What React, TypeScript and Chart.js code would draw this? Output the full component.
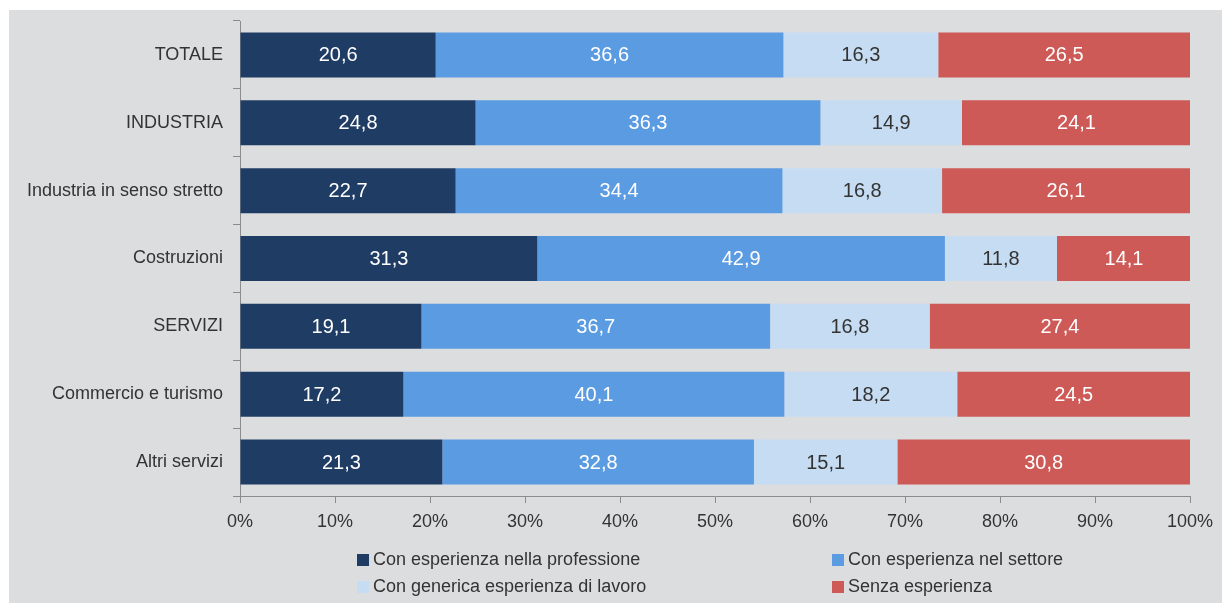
import React, { useEffect, useRef } from "react";
import { Chart, registerables } from "chart.js";

Chart.register(...registerables);

const categories = [
  "TOTALE",
  "INDUSTRIA",
  "Industria in senso stretto",
  "Costruzioni",
  "SERVIZI",
  "Commercio e turismo",
  "Altri servizi",
];

const seriesLabels = [
  "Con esperienza nella professione",
  "Con esperienza nel settore",
  "Con generica esperienza di lavoro",
  "Senza esperienza",
];

const professione = [20.6, 24.8, 22.7, 31.3, 19.1, 17.2, 21.3];
const settore = [36.6, 36.3, 34.4, 42.9, 36.7, 40.1, 32.8];
const generica = [16.3, 14.9, 16.8, 11.8, 16.8, 18.2, 15.1];
const senza = [26.5, 24.1, 26.1, 14.1, 27.4, 24.5, 30.8];

const colors = ["#1f3c64", "#5b9be1", "#c6dcf3", "#cd5a56"];
const labelColors = ["#ffffff", "#ffffff", "#333333", "#ffffff"];
const FONT = "'Liberation Sans', Arial, sans-serif";

const valueLabels = {
  id: "valueLabels",
  afterDatasetsDraw(chart: any) {
    const ctx = chart.ctx;
    ctx.save();
    ctx.font = `20px ${FONT}`;
    ctx.textAlign = "center";
    ctx.textBaseline = "middle";
    chart.data.datasets.forEach((ds: any, i: number) => {
      const meta = chart.getDatasetMeta(i);
      meta.data.forEach((el: any, j: number) => {
        const v = ds.data[j];
        const cx = (el.x + el.base) / 2;
        ctx.fillStyle = labelColors[i];
        ctx.fillText(v.toFixed(1).replace(".", ","), cx, el.y + 1);
      });
    });
    ctx.restore();
  },
};

const customLegend = {
  id: "customLegend",
  afterDraw(chart: any) {
    const ctx = chart.ctx;
    ctx.save();
    ctx.font = `18px ${FONT}`;
    ctx.textBaseline = "middle";
    ctx.textAlign = "left";
    const cols = [348, 823];
    const rows = [550, 577];
    chart.data.datasets.forEach((ds: any, i: number) => {
      const x = cols[i % 2];
      const y = rows[Math.floor(i / 2)];
      ctx.fillStyle = ds.backgroundColor;
      ctx.fillRect(x, y - 6, 12, 12);
      ctx.fillStyle = "#333333";
      ctx.fillText(ds.label, x + 16, y);
    });
    ctx.restore();
  },
};

export default function App() {
  const ref = useRef<HTMLCanvasElement>(null);
  useEffect(() => {
    if (!ref.current) return;
    const series = [professione, settore, generica, senza];
    const chart = new Chart(ref.current, {
      type: "bar",
      data: {
        labels: categories,
        datasets: series.map((d, i) => ({
          label: seriesLabels[i],
          data: d,
          backgroundColor: colors[i],
          borderWidth: 0,
          barPercentage: 0.663,
          categoryPercentage: 1,
        })),
      },
      options: {
        indexAxis: "y",
        animation: false,
        responsive: false,
        maintainAspectRatio: false,
        layout: { padding: { top: 11, right: 32, left: 0, bottom: 0 } },
        plugins: {
          legend: { display: false },
          tooltip: { enabled: false },
        },
        scales: {
          x: {
            stacked: true,
            min: 0,
            max: 100,
            ticks: {
              stepSize: 10,
              callback: (v: any) => v + "%",
              color: "#333333",
              font: { size: 18, family: FONT },
              padding: 8,
            },
            grid: {
              drawOnChartArea: false,
              tickLength: 7,
              color: "#8c8c8c",
            },
            border: { color: "#8c8c8c" },
            afterFit: (s: any) => {
              s.height = 107;
            },
          },
          y: {
            stacked: true,
            ticks: {
              color: "#333333",
              font: { size: 18, family: FONT },
              padding: 10,
            },
            grid: {
              drawOnChartArea: false,
              tickLength: 7,
              color: "#8c8c8c",
              offset: true,
            },
            border: { color: "#8c8c8c" },
            afterFit: (s: any) => {
              s.width = 231;
              s.paddingTop = 0;
              s.paddingBottom = 0;
            },
          },
        },
      },
      plugins: [valueLabels, customLegend],
    });
    return () => chart.destroy();
  }, []);
  return (
    <div
      style={{
        position: "absolute",
        left: 9,
        top: 10,
        width: 1213,
        height: 593,
        background: "#dcdddf",
      }}
    >
      <canvas ref={ref} width={1213} height={593} style={{ display: "block" }} />
    </div>
  );
}
